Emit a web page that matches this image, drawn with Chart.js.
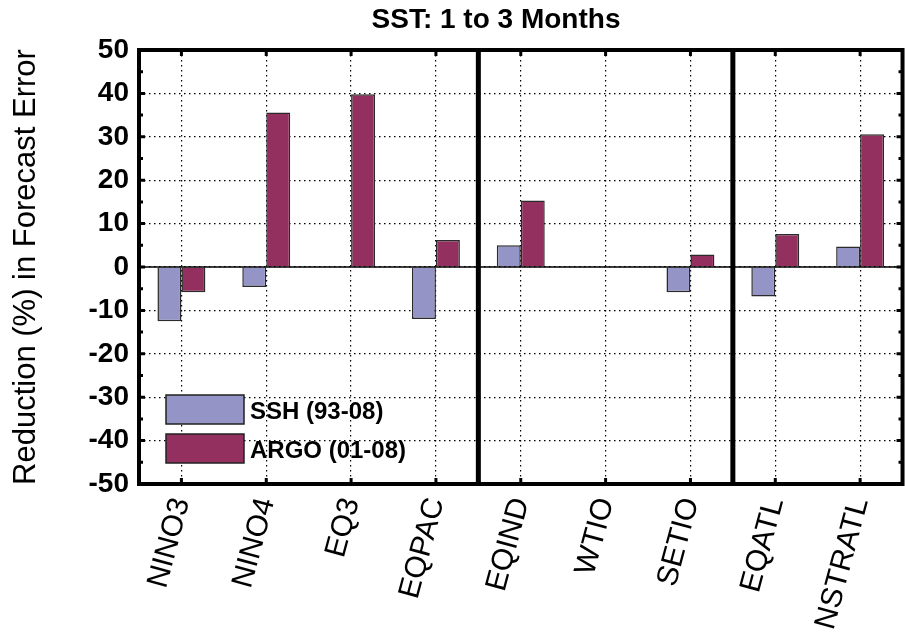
<!DOCTYPE html>
<html>
<head>
<meta charset="utf-8">
<script src="https://cdn.jsdelivr.net/npm/chart.js@4/dist/chart.umd.min.js"></script>
<style>
  html, body { margin: 0; padding: 0; background: #fff; }
  #wrap { width: 905px; height: 643px; }
</style>
</head>
<body>
<div id="wrap"><canvas id="sst"></canvas></div>
<script>
// regions
let regions = ['NINO3', 'NINO4', 'EQ3', 'EQPAC', 'EQIND', 'WTIO', 'SETIO', 'EQATL', 'NSTRATL']

// reduction (%) in forecast error
let ssh = [-12.5, -4.6, null, -12, 5, null, -5.8, -6.8, 4.7]
let argo = [-5.8, 35.6, 39.8, 6.2, 15.3, null, 2.9, 7.6, 30.6]

// y axis
let yMin = -50
let yMax = 50
let yStep = 10

// basins split after these category indexes (Pacific | Indian | Atlantic)
let basinBreaks = [3, 6]

let titleText = 'SST: 1 to 3 Months'
let yTitle = 'Reduction (%) in Forecast Error'

const FONT = "'Liberation Sans', Arial, sans-serif"

// frame, inward ticks, thick basin dividers, zero line, legend and title
let framePlugin = {
    id: 'frame',
    afterDatasetsDraw(chart) {
        let ctx = chart.ctx
        let a = chart.chartArea
        let x = chart.scales.x
        let y = chart.scales.y
        ctx.save()

        // zero line
        ctx.strokeStyle = '#000'
        ctx.lineWidth = 1.5
        let y0 = y.getPixelForValue(0)
        ctx.beginPath()
        ctx.moveTo(a.left, y0)
        ctx.lineTo(a.right, y0)
        ctx.stroke()

        // inward tick marks
        ctx.lineWidth = 3
        let len = 6
        y.ticks.forEach((t, i) => {
            let py = y.getPixelForTick(i)
            ctx.beginPath()
            ctx.moveTo(a.left, py); ctx.lineTo(a.left + len, py)
            ctx.moveTo(a.right, py); ctx.lineTo(a.right - len, py)
            ctx.stroke()
        })
        // minor ticks on y (every 5)
        for (let v = yMin + yStep / 2; v < yMax; v += yStep) {
            let py = y.getPixelForValue(v)
            ctx.beginPath()
            ctx.moveTo(a.left, py); ctx.lineTo(a.left + 4, py)
            ctx.moveTo(a.right, py); ctx.lineTo(a.right - 4, py)
            ctx.stroke()
        }
        x.ticks.forEach((t, i) => {
            let px = x.getPixelForTick(i)
            ctx.beginPath()
            ctx.moveTo(px, a.top); ctx.lineTo(px, a.top + len)
            ctx.moveTo(px, a.bottom); ctx.lineTo(px, a.bottom - len)
            ctx.stroke()
        })

        // basin dividers
        ctx.lineWidth = 5
        basinBreaks.forEach(b => {
            let px = (x.getPixelForValue(b) + x.getPixelForValue(b + 1)) / 2
            ctx.beginPath()
            ctx.moveTo(px, a.top)
            ctx.lineTo(px, a.bottom)
            ctx.stroke()
        })

        // frame
        ctx.lineWidth = 4
        ctx.strokeRect(a.left, a.top, a.right - a.left, a.bottom - a.top)

        // legend, lower left inside the plot
        let lx = a.left + 27
        let ly = a.top + 345
        chart.data.datasets.forEach((ds, i) => {
            let by = ly + i * 39
            ctx.fillStyle = ds.backgroundColor
            ctx.fillRect(lx, by, 78, 29)
            ctx.lineWidth = 1.5
            ctx.strokeStyle = '#222'
            ctx.strokeRect(lx, by, 78, 29)
            ctx.fillStyle = '#000'
            ctx.font = 'bold 24px ' + FONT
            ctx.textBaseline = 'middle'
            ctx.textAlign = 'left'
            ctx.fillText(ds.label, lx + 84, by + 17)
        })

        // title
        ctx.fillStyle = '#000'
        ctx.font = 'bold 28px ' + FONT
        ctx.textAlign = 'center'
        ctx.textBaseline = 'middle'
        ctx.fillText(titleText, 496, 20)
        ctx.restore()
    }
}

var sst_ctx = document.getElementById('sst')
var sst = new Chart(sst_ctx, {
    type: 'bar',
    data: {
        labels: regions,
        datasets: [{
            label: 'SSH (93-08)',
            data: ssh,
            backgroundColor: '#9494c6',
            borderColor: '#2a2a2a',
            borderWidth: 1.5
        }, {
            label: 'ARGO (01-08)',
            data: argo,
            backgroundColor: '#93305f',
            borderColor: '#2a2a2a',
            borderWidth: 1.5
        }]
    },
    options: {
        responsive: true,
        maintainAspectRatio: false,
        animation: false,
        layout: {
            padding: { top: 50, right: 2, left: 0, bottom: 0 }
        },
        datasets: {
            bar: {
                barPercentage: 1,
                categoryPercentage: 0.565
            }
        },
        plugins: {
            legend: { display: false },
            title: { display: false },
            tooltip: { enabled: false }
        },
        scales: {
            x: {
                offset: true,
                grid: {
                    offset: false,
                    color: '#000',
                    lineWidth: 1.2,
                    drawTicks: false
                },
                border: { display: false, dash: [1.5, 3.5] },
                ticks: {
                    color: '#000',
                    font: { family: FONT, size: 30 },
                    minRotation: 75,
                    maxRotation: 75,
                    autoSkip: false,
                    padding: 10
                },
                afterFit(scale) {
                    scale.height = 159
                }
            },
            y: {
                min: yMin,
                max: yMax,
                grid: {
                    color: '#000',
                    lineWidth: 1.2,
                    drawTicks: false
                },
                border: { display: false, dash: [1.5, 3.5] },
                ticks: {
                    stepSize: yStep,
                    color: '#000',
                    font: { family: FONT, size: 28, weight: 'bold' },
                    padding: 10
                },
                title: {
                    display: true,
                    text: yTitle,
                    color: '#000',
                    font: { family: FONT, size: 31 },
                    padding: { top: 8, bottom: 0 }
                },
                afterFit(scale) {
                    scale.width = 139
                }
            }
        }
    },
    plugins: [framePlugin]
})
</script>
</body>
</html>
